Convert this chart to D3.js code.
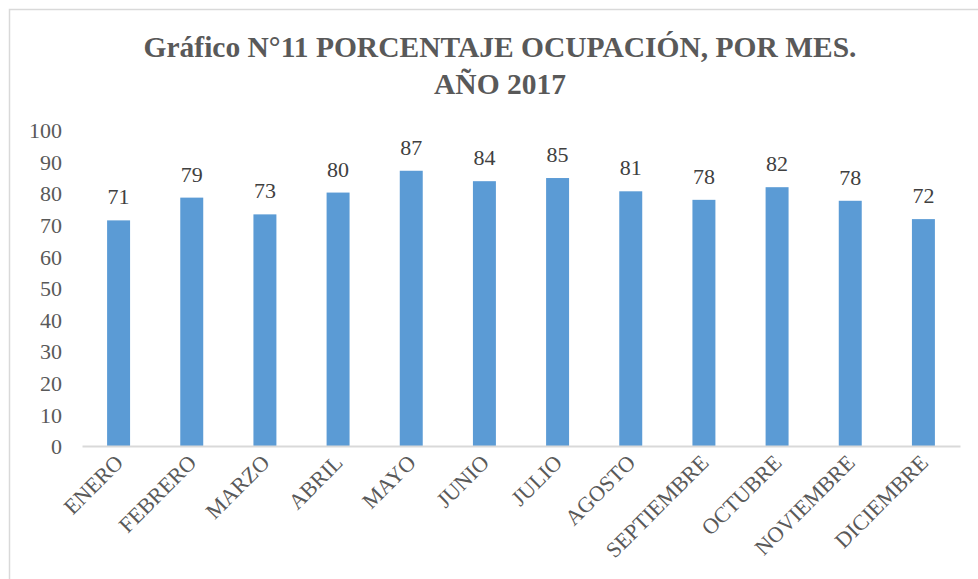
<!DOCTYPE html>
<html><head><meta charset="utf-8">
<script src="https://cdn.jsdelivr.net/npm/d3@7"></script>
<style>body{margin:0;background:#fff;}</style>
</head><body>
<script>
const titleLines = ["Gráfico N°11 PORCENTAJE OCUPACIÓN, POR MES.", "AÑO 2017"];
const months = ["ENERO","FEBRERO","MARZO","ABRIL","MAYO","JUNIO","JULIO","AGOSTO","SEPTIEMBRE","OCTUBRE","NOVIEMBRE","DICIEMBRE"];
const occupancy = [71.4, 78.6, 73.3, 80.2, 87.1, 83.8, 84.8, 80.6, 77.9, 81.9, 77.6, 71.8];
const yTicks = [0,10,20,30,40,50,60,70,80,90,100];

const W = 978, H = 579;
const svg = d3.select("body").append("svg").attr("width", W).attr("height", H);
const grey = "#595959";
const FF = '"Liberation Serif"';

svg.append("rect").attr("x", 9.5).attr("y", 9.5).attr("width", 1000).attr("height", 600)
  .attr("fill", "none").attr("stroke", "#d9d9d9").attr("stroke-width", 1.5);

const t = svg.append("text").attr("text-anchor", "middle").style("font-family", FF)
  .style("font-weight", "bold").style("font-size", "29.5px").attr("fill", grey);
titleLines.forEach((s, i) => t.append("tspan").attr("x", 500).attr("y", 57 + i * 37).style("font-family", FF).text(s));

const x = d3.scaleBand().domain(months).range([82, 960]).paddingInner(0.686).paddingOuter(0.343);
const y = d3.scaleLinear().domain([0, 100]).range([446, 130]);

const ya = svg.append("g").attr("transform", "translate(62,0)")
  .call(d3.axisLeft(y).tickValues(yTicks).tickSize(0).tickPadding(0));
ya.select(".domain").remove();
ya.selectAll("text").style("font-family", FF).style("font-size", "22px").attr("fill", grey).attr("dy", "0.35em");

svg.append("g").selectAll("rect").data(occupancy).join("rect")
  .attr("x", (d, i) => x(months[i])).attr("width", x.bandwidth())
  .attr("y", d => y(d)).attr("height", d => y(0) - y(d))
  .attr("fill", "#5b9bd5");

const xa = svg.append("g").attr("transform", `translate(0,${y(0)})`)
  .call(d3.axisBottom(x).tickSize(0).tickPadding(0));
xa.select(".domain").attr("stroke", "#d9d9d9").attr("stroke-width", 2);
xa.selectAll("text").style("font-family", FF).style("font-size", "22px").attr("fill", grey)
  .attr("text-anchor", "end").attr("dy", null).attr("y", 0)
  .attr("transform", "translate(6,18) rotate(-45)");

svg.append("g").selectAll("text").data(occupancy).join("text")
  .attr("x", (d, i) => x(months[i]) + x.bandwidth() / 2)
  .attr("y", d => y(d) - 16)
  .attr("text-anchor", "middle").style("font-family", FF).style("font-size", "22px").attr("fill", "#404040")
  .text(d => d3.format(".0f")(d));
</script>
</body></html>
